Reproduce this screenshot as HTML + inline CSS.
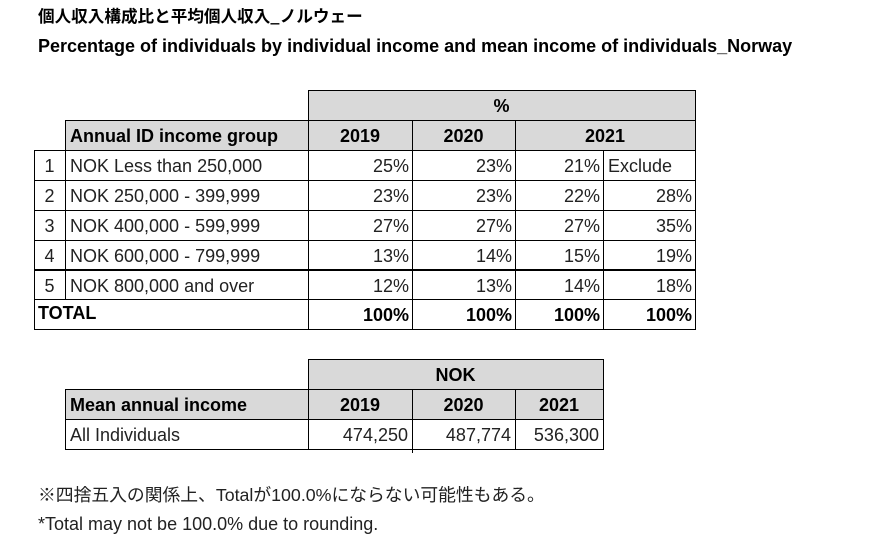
<!DOCTYPE html>
<html><head><meta charset="utf-8">
<style>
html,body{margin:0;padding:0;background:#fff;}
body{width:872px;height:541px;position:relative;overflow:hidden;font-family:"Liberation Sans","Noto Sans CJK JP",sans-serif;color:#222;}
.h{position:absolute;height:1px;background:#000;}
.v{position:absolute;width:1px;background:#000;}
.g{position:absolute;background:#d9d9d9;}
.t{position:absolute;font-size:18px;white-space:nowrap;line-height:30px;}
.b{font-weight:bold;color:#000;}
.r{text-align:right;}
.c{text-align:center;}
</style></head><body>

<div class="t b" style="left:38px;top:5px;line-height:20px;font-size:16.6px;font-family:'Noto Sans CJK JP','Liberation Sans',sans-serif;">個人収入構成比と平均個人収入_ノルウェー</div>
<div class="t b" style="left:38px;top:36px;line-height:20px;font-size:18px;">Percentage of individuals by individual income and mean income of individuals_Norway</div>

<!-- Table 1 fills -->
<div class="g" style="left:308px;top:90px;width:387px;height:60px;"></div>
<div class="g" style="left:65px;top:120px;width:243px;height:30px;"></div>

<!-- Table 1 horizontal lines -->
<div class="h" style="left:308px;top:90px;width:388px;"></div>
<div class="h" style="left:65px;top:120px;width:631px;"></div>
<div class="h" style="left:34px;top:150px;width:662px;"></div>
<div class="h" style="left:34px;top:180px;width:662px;"></div>
<div class="h" style="left:34px;top:210px;width:662px;"></div>
<div class="h" style="left:34px;top:240px;width:662px;"></div>
<div class="h" style="left:34px;top:269px;width:662px;height:2px;"></div>
<div class="h" style="left:34px;top:299px;width:662px;"></div>
<div class="h" style="left:34px;top:329px;width:662px;"></div>

<!-- Table 1 vertical lines -->
<div class="v" style="left:34px;top:150px;height:180px;"></div>
<div class="v" style="left:65px;top:120px;height:180px;"></div>
<div class="v" style="left:308px;top:90px;height:240px;"></div>
<div class="v" style="left:412px;top:120px;height:210px;"></div>
<div class="v" style="left:515px;top:120px;height:210px;"></div>
<div class="v" style="left:603px;top:150px;height:180px;"></div>
<div class="v" style="left:695px;top:90px;height:240px;"></div>

<!-- Table 1 text -->
<div class="t b c" style="left:308px;top:91px;width:387px;">%</div>
<div class="t b" style="left:70px;top:121px;">Annual ID income group</div>
<div class="t b c" style="left:308px;top:121px;width:104px;">2019</div>
<div class="t b c" style="left:412px;top:121px;width:103px;">2020</div>
<div class="t b c" style="left:515px;top:121px;width:180px;">2021</div>

<div class="t c" style="left:34px;top:151px;width:31px;">1</div>
<div class="t" style="left:70px;top:151px;">NOK Less than 250,000</div>
<div class="t r" style="left:308px;top:151px;width:101px;">25%</div>
<div class="t r" style="left:412px;top:151px;width:100px;">23%</div>
<div class="t r" style="left:515px;top:151px;width:85px;">21%</div>
<div class="t" style="left:608px;top:151px;">Exclude</div>

<div class="t c" style="left:34px;top:181px;width:31px;">2</div>
<div class="t" style="left:70px;top:181px;">NOK 250,000 - 399,999</div>
<div class="t r" style="left:308px;top:181px;width:101px;">23%</div>
<div class="t r" style="left:412px;top:181px;width:100px;">23%</div>
<div class="t r" style="left:515px;top:181px;width:85px;">22%</div>
<div class="t r" style="left:603px;top:181px;width:89px;">28%</div>

<div class="t c" style="left:34px;top:211px;width:31px;">3</div>
<div class="t" style="left:70px;top:211px;">NOK 400,000 - 599,999</div>
<div class="t r" style="left:308px;top:211px;width:101px;">27%</div>
<div class="t r" style="left:412px;top:211px;width:100px;">27%</div>
<div class="t r" style="left:515px;top:211px;width:85px;">27%</div>
<div class="t r" style="left:603px;top:211px;width:89px;">35%</div>

<div class="t c" style="left:34px;top:241px;width:31px;">4</div>
<div class="t" style="left:70px;top:241px;">NOK 600,000 - 799,999</div>
<div class="t r" style="left:308px;top:241px;width:101px;">13%</div>
<div class="t r" style="left:412px;top:241px;width:100px;">14%</div>
<div class="t r" style="left:515px;top:241px;width:85px;">15%</div>
<div class="t r" style="left:603px;top:241px;width:89px;">19%</div>

<div class="t c" style="left:34px;top:271px;width:31px;">5</div>
<div class="t" style="left:70px;top:271px;">NOK 800,000 and over</div>
<div class="t r" style="left:308px;top:271px;width:101px;">12%</div>
<div class="t r" style="left:412px;top:271px;width:100px;">13%</div>
<div class="t r" style="left:515px;top:271px;width:85px;">14%</div>
<div class="t r" style="left:603px;top:271px;width:89px;">18%</div>

<div class="t b" style="left:38px;top:298px;">TOTAL</div>
<div class="t b r" style="left:308px;top:300px;width:101px;">100%</div>
<div class="t b r" style="left:412px;top:300px;width:100px;">100%</div>
<div class="t b r" style="left:515px;top:300px;width:85px;">100%</div>
<div class="t b r" style="left:603px;top:300px;width:89px;">100%</div>

<!-- Table 2 fills -->
<div class="g" style="left:308px;top:359px;width:295px;height:60px;"></div>
<div class="g" style="left:65px;top:389px;width:243px;height:30px;"></div>

<!-- Table 2 lines -->
<div class="h" style="left:308px;top:359px;width:296px;"></div>
<div class="h" style="left:65px;top:389px;width:539px;"></div>
<div class="h" style="left:65px;top:419px;width:539px;"></div>
<div class="h" style="left:65px;top:449px;width:539px;"></div>
<div class="v" style="left:65px;top:389px;height:61px;"></div>
<div class="v" style="left:308px;top:359px;height:91px;"></div>
<div class="v" style="left:412px;top:389px;height:64px;"></div>
<div class="v" style="left:515px;top:389px;height:61px;"></div>
<div class="v" style="left:603px;top:359px;height:91px;"></div>

<!-- Table 2 text -->
<div class="t b c" style="left:308px;top:360px;width:295px;">NOK</div>
<div class="t b" style="left:70px;top:390px;">Mean annual income</div>
<div class="t b c" style="left:308px;top:390px;width:104px;">2019</div>
<div class="t b c" style="left:412px;top:390px;width:103px;">2020</div>
<div class="t b c" style="left:515px;top:390px;width:88px;">2021</div>
<div class="t" style="left:70px;top:420px;">All Individuals</div>
<div class="t r" style="left:308px;top:420px;width:100px;">474,250</div>
<div class="t r" style="left:412px;top:420px;width:99px;">487,774</div>
<div class="t r" style="left:515px;top:420px;width:84px;">536,300</div>

<!-- Footnotes -->
<div class="t" style="left:38px;top:481px;line-height:28px;font-size:17.8px;">※四捨五入の関係上、Totalが100.0%にならない可能性もある。</div>
<div class="t" style="left:38px;top:510px;line-height:28px;">*Total may not be 100.0% due to rounding.</div>

</body></html>
